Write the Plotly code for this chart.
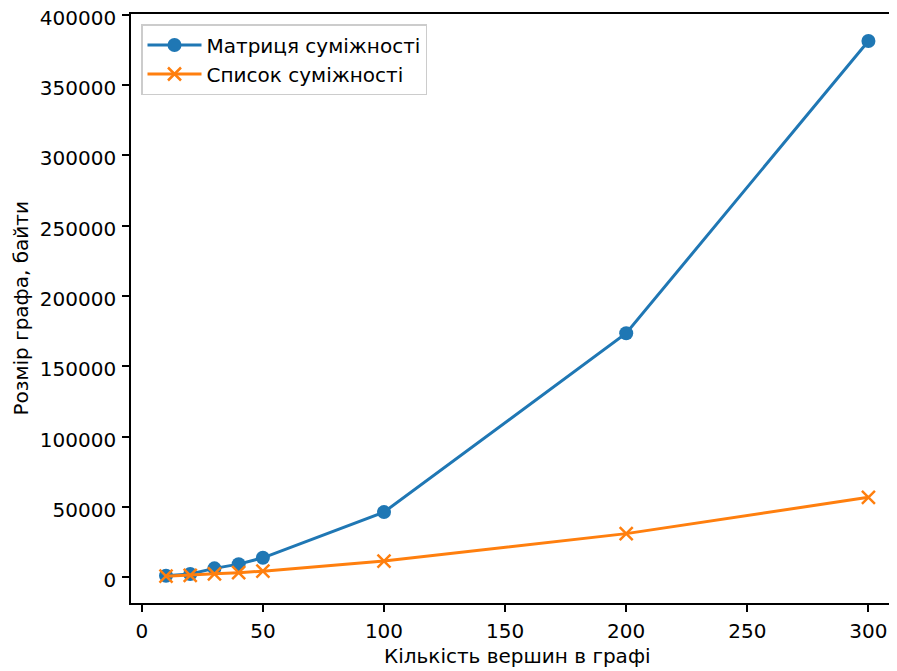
import plotly.graph_objects as go

vertices = [10, 20, 30, 40, 50, 100, 200, 300]
matrix_sizes = [1000, 2300, 6300, 9300, 13800, 46300, 173500, 381300]
list_sizes = [700, 1300, 2400, 3200, 4300, 11500, 31000, 56800]

series_names = ["Матриця суміжності", "Список суміжності"]
x_title = "Кількість вершин в графі"
y_title = "Розмір графа, байти"
x_ticks = [0, 50, 100, 150, 200, 250, 300]
y_ticks = [0, 50000, 100000, 150000, 200000, 250000, 300000, 350000, 400000]

FONT = "DejaVu Sans"
OFF = 8  # page body margin offset
W, H = 897 - OFF, 671 - OFF
L, R, T = 131 - OFF, 0, 14 - OFF
B = H - (603 - OFF)
pw, ph = W - L - R, H - T - B

fig = go.Figure()
fig.add_trace(go.Scatter(
    x=vertices, y=matrix_sizes, name=series_names[0], mode="lines+markers",
    line=dict(color="#1f77b4", width=3),
    marker=dict(symbol="circle", size=14, color="#1f77b4"),
))
fig.add_trace(go.Scatter(
    x=vertices, y=list_sizes, name=series_names[1], mode="lines+markers",
    line=dict(color="#ff7f0e", width=3),
    marker=dict(symbol="x-thin", size=13, color="#ff7f0e",
                line=dict(color="#ff7f0e", width=2.5)),
))

axis_common = dict(
    showgrid=False, zeroline=False, showline=True, linecolor="black", linewidth=1.6,
    ticks="outside", ticklen=7, tickwidth=1.6, tickcolor="black",
    tickfont=dict(family=FONT, size=20, color="black"),
    automargin=False, ticklabelstandoff=2, ticklabeloverflow="allow",
)

fig.update_layout(
    width=W, height=H,
    margin=dict(l=L, r=R, t=T, b=B),
    paper_bgcolor="white", plot_bgcolor="white",
    font=dict(family=FONT, size=20, color="black"),
    showlegend=True,
    legend=dict(
        x=10 / pw, y=1 - 10 / ph, xanchor="left", yanchor="top",
        bgcolor="rgba(255,255,255,0.8)", bordercolor="#cccccc", borderwidth=1.5,
        font=dict(family=FONT, size=20, color="black"),
        itemwidth=54, tracegroupgap=0,
    ),
    xaxis=dict(
        range=[-4.45, 311.8], tickvals=x_ticks, ticktext=[str(v) for v in x_ticks],
        mirror=True, **axis_common,
    ),
    yaxis=dict(
        range=[-18340, 400540], tickvals=y_ticks, ticktext=[str(v) for v in y_ticks],
        mirror=False, ticklabelshift=3, **axis_common,
    ),
    annotations=[
        dict(text=x_title, xref="paper", yref="paper",
             x=(517 - 131) / pw, y=-(656 - 603) / ph,
             xanchor="center", yanchor="middle", showarrow=False,
             font=dict(family=FONT, size=20, color="black")),
        dict(text=y_title, xref="paper", yref="paper",
             x=(20 - 131) / pw, y=0.5, textangle=-90,
             xanchor="center", yanchor="middle", showarrow=False,
             font=dict(family=FONT, size=20, color="black")),
    ],
)

fig.write_html("out.html")
